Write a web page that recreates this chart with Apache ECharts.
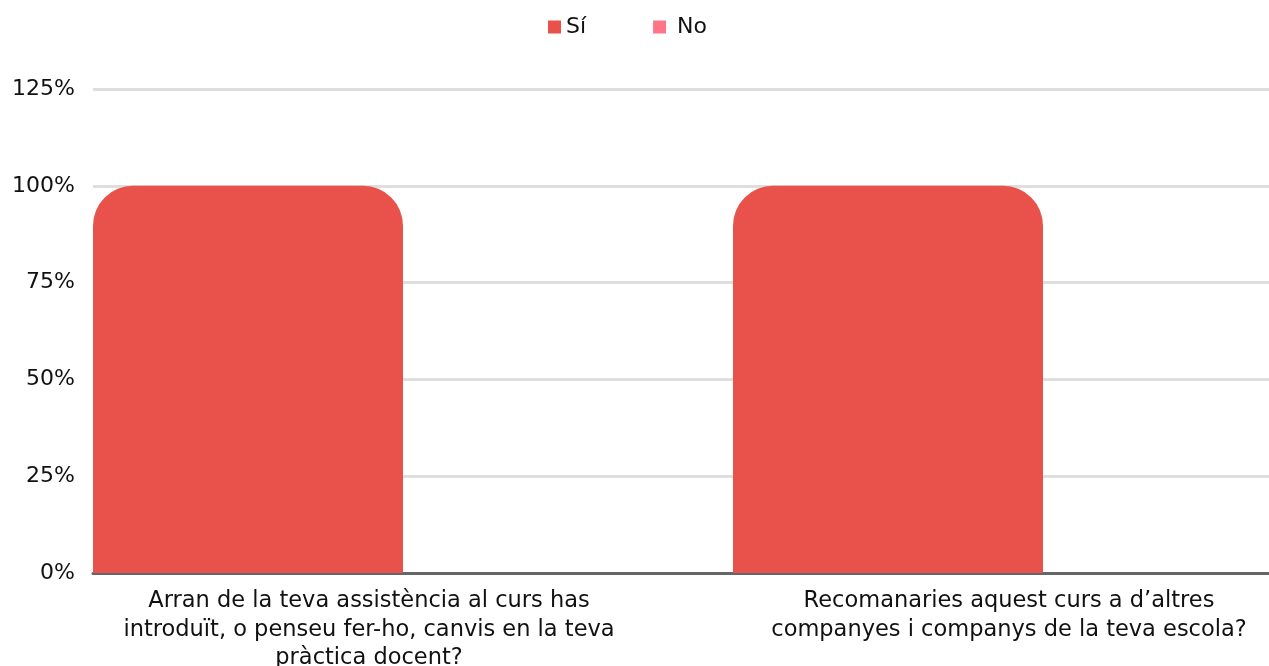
<!DOCTYPE html>
<html>
<head>
<meta charset="utf-8">
<script src="https://cdn.jsdelivr.net/npm/echarts@6/dist/echarts.min.js"></script>
<style>
html,body{margin:0;padding:0;background:#fff;}
#chart{width:1269px;height:666px;}
</style>
</head>
<body>
<div id="chart"></div>
<script>
const categories = [
  "Arran de la teva assistència al curs has\nintroduït, o penseu fer-ho, canvis en la teva\npràctica docent?",
  "Recomanaries aquest curs a d’altres\ncompanyes i companys de la teva escola?"
];
const seriesNames = ["Sí", "No"];
const siValues = [100, 100];
const noValues = [0, 0];
const yTicks = [0, 25, 50, 75, 100, 125];

const FONT = "DejaVu Sans";
const chart = echarts.init(document.getElementById('chart'));
chart.setOption({
  animation: false,
  textStyle: {fontFamily: FONT},
  legend: {
    data: [
      {name: seriesNames[0]},
      {name: seriesNames[1], textStyle: {padding: [0, 0, 0, 6]}}
    ],
    top: 11,
    left: 543,
    itemWidth: 13,
    itemHeight: 13,
    itemGap: 67,
    icon: 'rect',
    textStyle: {fontSize: 22, color: '#111', fontFamily: FONT}
  },
  grid: {left: 93, right: -104, top: 89, bottom: 93, containLabel: false, outerBoundsMode: 'none'},
  xAxis: {
    type: 'category',
    data: categories,
    axisLine: {show: true, lineStyle: {color: '#666', width: 3}},
    axisTick: {show: false},
    axisLabel: {
      interval: 0,
      margin: 14,
      fontSize: 22.5,
      lineHeight: 28.5,
      color: '#111',
      fontFamily: FONT,
      align: 'center',
      padding: [0, 88, 0, 0]
    }
  },
  yAxis: {
    type: 'value',
    min: yTicks[0],
    max: yTicks[yTicks.length - 1],
    interval: 25,
    axisLine: {show: false},
    axisTick: {show: false},
    splitLine: {lineStyle: {color: '#dedede', width: 3}},
    axisLabel: {formatter: '{value}%', fontSize: 22, color: '#111', margin: 18, fontFamily: FONT}
  },
  series: [
    {
      name: seriesNames[0],
      type: 'bar',
      data: siValues,
      barWidth: 310,
      barGap: '6.45%',
      itemStyle: {color: '#e9524a', borderRadius: [40, 40, 0, 0]}
    },
    {
      name: seriesNames[1],
      type: 'bar',
      data: noValues,
      barWidth: 310,
      itemStyle: {color: '#ff7487', borderRadius: [40, 40, 0, 0]}
    }
  ]
});
</script>
</body>
</html>
